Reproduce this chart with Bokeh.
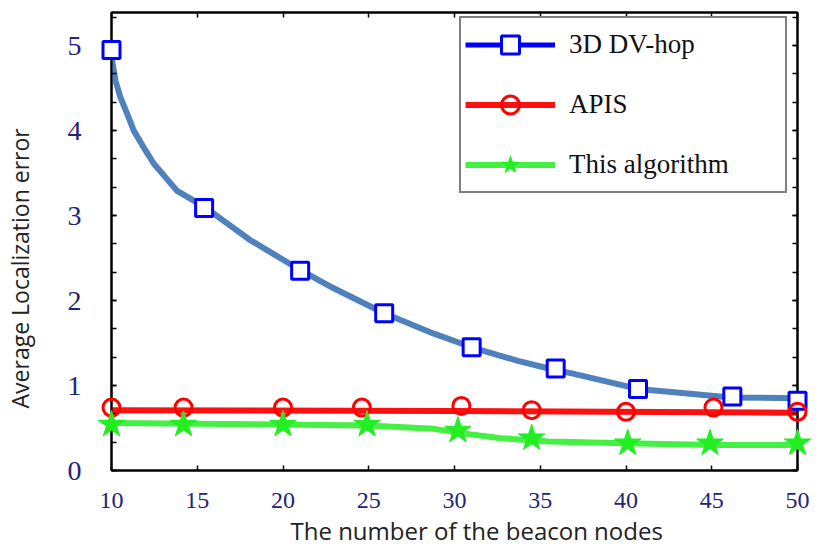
import math
from bokeh.plotting import figure
from bokeh.models import (Range1d, LinearAxis, SingleIntervalTicker, Legend,
                          LegendItem, Title)
from bokeh.embed import file_html
from bokeh.resources import INLINE

# ---------------- data ----------------
series_names = ["3D DV-hop", "APIS", "This algorithm"]
x_title = "The number  of the beacon nodes"
y_title = "Average Localization error"
x_ticks = [10, 15, 20, 25, 30, 35, 40, 45, 50]
y_ticks = [0, 1, 2, 3, 4, 5]

dvhop_x = [10, 15.4, 21.0, 25.9, 31.0, 35.9, 40.7, 46.2, 50]
dvhop_y = [4.95, 3.09, 2.35, 1.85, 1.45, 1.20, 0.96, 0.87, 0.82]
apis_x = [10, 14.2, 20.0, 24.6, 30.4, 34.5, 40.0, 45.1, 50]
apis_y = [0.74, 0.74, 0.74, 0.74, 0.76, 0.71, 0.69, 0.74, 0.69]
this_x = [10, 14.2, 20.0, 24.9, 30.2, 34.5, 40.1, 44.9, 50]
this_y = [0.54, 0.54, 0.54, 0.54, 0.47, 0.38, 0.32, 0.32, 0.32]

# fitted curves as drawn in the figure
dvhop_curve_x = [10, 10.04, 10.23, 10.52, 10.91, 11.3, 11.88, 12.47, 13.15, 13.83,
                 14.6, 15.44, 18.1, 21.0, 22.9, 25.9, 28.8, 31.0, 33.7, 35.5,
                 36.9, 40.7, 42.8, 46.1, 50]
dvhop_curve_y = [4.95, 4.82, 4.59, 4.39, 4.20, 4.0, 3.80, 3.61, 3.45, 3.29,
                 3.20, 3.10, 2.71, 2.36, 2.15, 1.85, 1.61, 1.45, 1.29, 1.20,
                 1.14, 0.96, 0.92, 0.86, 0.85]
apis_curve_x = [10, 30, 50]
apis_curve_y = [0.71, 0.70, 0.68]
this_curve_x = [10, 25, 28.8, 30.4, 32.7, 35.5, 40, 45, 50]
this_curve_y = [0.56, 0.53, 0.49, 0.44, 0.38, 0.34, 0.32, 0.30, 0.30]

TICK_COLOR = "#23237a"
SERIF = "Liberation Serif"
SANS = "Open Sans"
NBSP = "\u00a0"

p = figure(width=825, height=551, output_backend="svg", toolbar_location=None,
           x_range=Range1d(10, 50), y_range=Range1d(0, 5.39),
           min_border_left=111, min_border_right=28, min_border_top=12,
           min_border_bottom=81, background_fill_color="white",
           border_fill_color="white")
p.grid.visible = False
p.outline_line_color = "black"
p.outline_line_width = 2

# curves
p.line(dvhop_curve_x, dvhop_curve_y, line_color="#4f81bd", line_width=6,
       line_join="round", line_cap="round")
red_line = p.line(apis_curve_x, apis_curve_y, line_color="#ff1010", line_width=6)
green_line = p.line(this_curve_x, this_curve_y, line_color="#44f044", line_width=6,
                    line_join="round")

# legend-only pure blue line
blue_dummy = p.line([math.nan], [math.nan], line_color="#0000ff", line_width=5)

sq = p.scatter(dvhop_x, dvhop_y, marker="square", size=17, line_color="#0000ff",
               line_width=3, fill_color="white", level="overlay")
ci = p.scatter(apis_x, apis_y, marker="circle", size=17, line_color="#ff0000",
               line_width=3, fill_color=None, level="overlay")
st = p.scatter(this_x, this_y, marker="star", size=28, line_color="#22ee22",
               line_width=1, fill_color="#22ee22", level="overlay")

# axes
for ax in (p.xaxis[0], p.yaxis[0]):
    ax.axis_line_width = 2
    ax.major_tick_in = 5
    ax.major_tick_out = 0
    ax.minor_tick_in = 5
    ax.minor_tick_out = 0
    ax.major_tick_line_width = 1.5
    ax.minor_tick_line_width = 1.5
    ax.major_label_text_color = TICK_COLOR
    ax.major_label_text_font = SERIF

p.xaxis.ticker = SingleIntervalTicker(interval=5, num_minor_ticks=0)
p.xaxis.major_label_text_font_size = "24px"
p.xaxis.major_label_standoff = 22

p.yaxis.ticker = SingleIntervalTicker(interval=1, num_minor_ticks=3)
p.yaxis.major_label_text_font_size = "28px"
p.yaxis.major_label_standoff = 30
p.yaxis.major_label_orientation = "horizontal"
# trailing no-break spaces move the centred title down, as in the reference
p.yaxis.axis_label = y_title + NBSP * 9
p.yaxis.axis_label_text_font = SANS
p.yaxis.axis_label_text_font_size = "23px"
p.yaxis.axis_label_text_font_style = "normal"
p.yaxis.axis_label_text_color = "#222222"
p.yaxis.axis_label_standoff = 29

top = LinearAxis(ticker=SingleIntervalTicker(interval=5, num_minor_ticks=0),
                 major_label_text_font_size="8px", major_label_standoff=0,
                 major_label_text_color=None,
                 major_tick_in=5, major_tick_out=0, axis_line_width=2,
                 major_tick_line_width=1.5)
right = LinearAxis(ticker=SingleIntervalTicker(interval=1, num_minor_ticks=3),
                   major_label_text_font_size="8px", major_label_standoff=0,
                   major_label_text_color=None,
                   major_tick_in=5, major_tick_out=0, minor_tick_in=5,
                   minor_tick_out=0, axis_line_width=2,
                   major_tick_line_width=1.5, minor_tick_line_width=1.5)
p.add_layout(top, "above")
p.add_layout(right, "right")

# x title, offset to the right like the reference
xt = Title(text=x_title, align="left", offset=179, standoff=2,
           text_font=SANS, text_font_size="24px", text_font_style="normal",
           text_color="#222222")
p.add_layout(xt, "below")

legend = Legend(items=[
    LegendItem(label=series_names[0], renderers=[blue_dummy, sq]),
    LegendItem(label=series_names[1], renderers=[red_line, ci]),
    LegendItem(label=series_names[2], renderers=[green_line, st]),
], location=(348, 277))
legend.label_text_font = SERIF
legend.label_text_font_size = "27px"
legend.label_text_color = "#111111"
legend.glyph_width = 90
legend.glyph_height = 45
legend.label_height = 45
legend.label_width = 212
legend.label_standoff = 14
legend.spacing = 15
legend.padding = 4
legend.margin = 0
legend.border_line_color = "black"
legend.border_line_width = 2
legend.background_fill_alpha = 1
p.add_layout(legend, "center")

open("out.html", "w").write(file_html(p, INLINE))
